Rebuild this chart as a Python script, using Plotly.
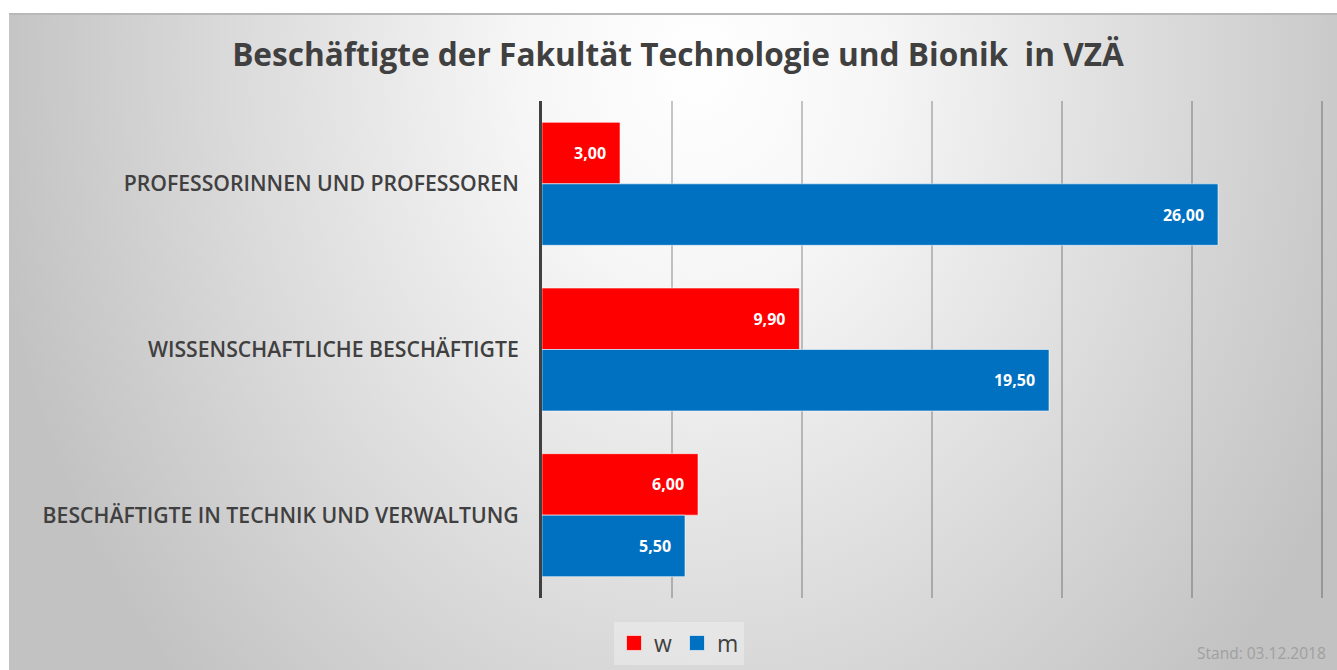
import base64
import plotly.graph_objects as go

categories = ["PROFESSORINNEN UND PROFESSOREN", "WISSENSCHAFTLICHE BESCHÄFTIGTE",
              "BESCHÄFTIGTE IN TECHNIK UND VERWALTUNG"]
w_values = [3.00, 9.90, 6.00]
m_values = [26.00, 19.50, 5.50]
series_names = ["w", "m"]
series_colors = ["#FF0000", "#0070C0"]
title_text = "Beschäftigte der Fakultät Technologie und Bionik  in VZÄ"
stand_text = "Stand: 03.12.2018"

# body margin is removed in the page, so figure px == screen px
OX, OY = 0, 0
SW, SH = 1337, 670
W, H = SW - OX, SH - OY
X0, X1 = 542, 1325      # plot area in screen px
Y0, Y1 = 101, 598
L, R, T, B = X0 - OX, SW - X1, Y0 - OY, SH - Y1
pw, ph = W - L - R, H - T - B

PW, PH = SW - 9, SH - 13
svg = f'''<svg xmlns="http://www.w3.org/2000/svg" width="{PW}" height="{PH}" viewBox="0 0 {PW} {PH}" preserveAspectRatio="none">
<defs><radialGradient id="g" gradientUnits="userSpaceOnUse" cx="0" cy="0" r="720" gradientTransform="translate(690,50) scale(1,1.25)">
<stop offset="0" stop-color="#ffffff"/><stop offset="0.25" stop-color="#f6f6f6"/><stop offset="1" stop-color="#c2c2c2"/></radialGradient></defs>
<rect x="0" y="0" width="{PW}" height="{PH}" fill="url(#g)"/>
<rect x="0" y="0" width="{PW}" height="2" fill="#b8b8b8"/>
</svg>'''
uri = "data:image/svg+xml;base64," + base64.b64encode(svg.encode()).decode()


def px2x(px):
    return (px - X0) / pw


def py2y(py):
    return (Y1 - py) / ph


fig = go.Figure()
for name, vals, col in zip(series_names, [w_values, m_values], series_colors):
    fig.add_trace(go.Bar(
        y=categories, x=vals, name=name, orientation="h",
        marker=dict(color=col, line=dict(color="rgba(255,255,255,0.55)", width=1)),
        texttemplate="%{x:.2f}\u00a0\u00a0\u2009", textposition="inside", insidetextanchor="end",
        textfont=dict(family="Open Sans", size=16, color="white", weight="bold"),
        showlegend=False, cliponaxis=False,
    ))
    fig.add_trace(go.Scatter(
        x=[None], y=[None], mode="markers", name=name,
        marker=dict(symbol="square", size=15, color=col,
                    line=dict(color="rgba(255,255,255,0.6)", width=1)),
        showlegend=True, hoverinfo="skip",
    ))

fig.update_layout(
    width=W, height=H,
    margin=dict(l=L, r=R, t=T, b=B, autoexpand=False),
    paper_bgcolor="white", plot_bgcolor="rgba(0,0,0,0)",
    separators=",.",
    barmode="group", bargap=0.258, bargroupgap=0.0,
    images=[dict(source=uri, xref="paper", yref="paper",
                 x=px2x(9), y=py2y(13), sizex=PW / pw, sizey=PH / ph,
                 xanchor="left", yanchor="top", sizing="stretch", layer="below")],
    title=dict(text=title_text, xref="container", yref="container",
               x=(678 - OX) / W, y=1 - (55 - OY) / H, xanchor="center", yanchor="middle",
               font=dict(family="Open Sans", size=31.6, color="#404040", weight="bold")),
    xaxis=dict(range=[0, (X1 - X0) / 26.0], dtick=5, showticklabels=False,
               showgrid=True, gridcolor="rgba(0,0,0,0.22)", gridwidth=1.5,
               zeroline=False, showline=False, fixedrange=True),
    yaxis=dict(autorange="reversed", showline=True, linecolor="#404040", linewidth=3,
               showgrid=False, ticks="", ticklabelstandoff=16,
               tickfont=dict(family="Open Sans", size=21.2, color="#404040", weight=600)),
    legend=dict(orientation="h", x=px2x(679), y=py2y(643), xanchor="center", yanchor="middle",
                bgcolor="rgba(255,255,255,0.3)", borderwidth=0,
                font=dict(family="Open Sans", size=23, color="#404040")),
    annotations=[dict(text=stand_text, xref="paper", yref="paper",
                      x=px2x(1328), y=py2y(653), xanchor="right", yanchor="middle",
                      showarrow=False, font=dict(family="Open Sans", size=15.5, color="#a0a0a0"))],
)

fig.write_html("out.html", config={"displayModeBar": False},
               post_script="document.body.style.margin='0';document.body.style.overflow='hidden';")
